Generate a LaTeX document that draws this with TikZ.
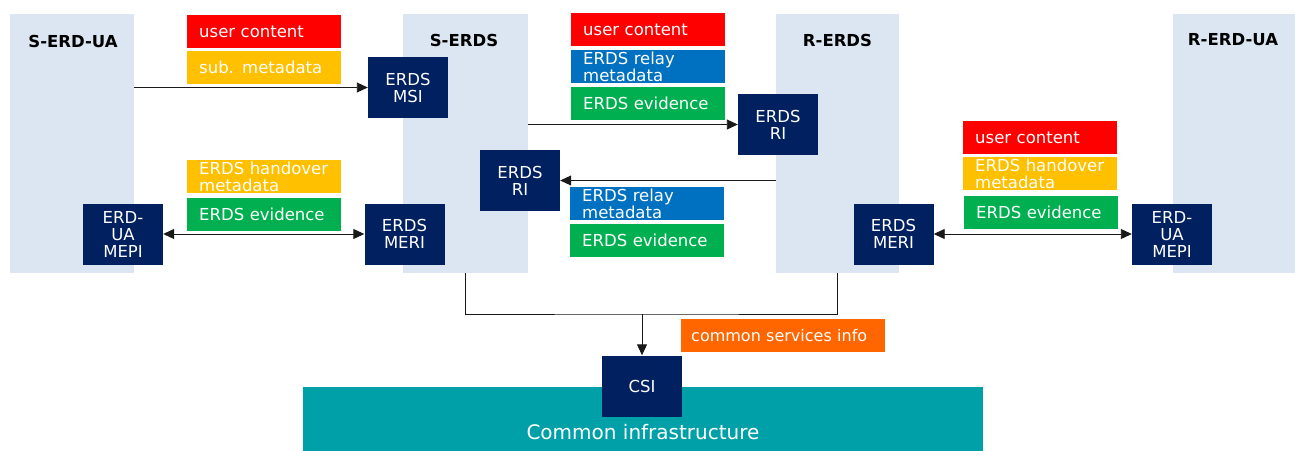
\documentclass[tikz,border=0pt]{standalone}
\usepackage{fontspec}
\setmainfont{DejaVu Sans}
\usetikzlibrary{arrows.meta}
\definecolor{colbg}{RGB}{220,230,242}
\definecolor{navy}{RGB}{0,32,96}
\definecolor{tred}{RGB}{255,0,0}
\definecolor{tyel}{RGB}{255,192,0}
\definecolor{tblue}{RGB}{0,112,192}
\definecolor{tgreen}{RGB}{0,176,80}
\definecolor{torange}{RGB}{255,102,0}
\definecolor{tealbg}{RGB}{0,160,168}
\definecolor{lin}{RGB}{25,25,25}
\begin{document}
\begin{tikzpicture}[x=1pt,y=-1pt,
 colbox/.style={fill=colbg, draw=none, minimum width=#1, minimum height=259pt, inner sep=0pt},
 header/.style={font=\fontsize{16.5}{18}\selectfont\bfseries, text=black},
 iface/.style={fill=navy, text=white, minimum width=80pt, minimum height=61pt, inner sep=0pt, align=center, font=\fontsize{16.5}{17}\selectfont},
 tag/.style={anchor=north west, text=white, inner xsep=12pt, inner ysep=0pt, text width=130pt, minimum height=33pt, align=left, font=\fontsize{16.5}{16.5}\selectfont},
 conn/.style={draw=lin, line width=0.9pt},
 arr/.style={conn, -{Triangle[length=11pt,width=10pt]}},
 darr/.style={conn, {Triangle[length=11pt,width=10pt]}-{Triangle[length=11pt,width=10pt]}},
]
\useasboundingbox (0,0) rectangle (1295,450);
% columns
\node[colbox=124pt] (cSUA) at (72,143.5) {};
\node[colbox=125pt] (cSE) at (465.5,143.5) {};
\node[colbox=123pt] (cRE) at (837.5,143) {};
\node[colbox=124pt] (cRUA) at (1235,143) {};
% headers
\node[header] (hSUA) at (73,41) {S-ERD-UA};
\node[header] (hSE) at (464,40) {S-ERDS};
\node[header] (hRE) at (837.5,40) {R-ERDS};
\node[header] (hRUA) at (1233,40) {R-ERD-UA};
% tags
\node[tag, fill=tred] (t1) at (187,15) {user content};
\node[tag, fill=tyel] (t2) at (187,51) {sub. metadata};
\node[tag, fill=tyel] (t3) at (187,160) {ERDS handover\\metadata};
\node[tag, fill=tgreen] (t4) at (187,198) {ERDS evidence};
\node[tag, fill=tred] (t5) at (571,13) {user content};
\node[tag, fill=tblue] (t6) at (571,50) {ERDS relay\\metadata};
\node[tag, fill=tgreen] (t7) at (571,87) {ERDS evidence};
\node[tag, fill=tblue] (t8) at (570,187) {ERDS relay\\metadata};
\node[tag, fill=tgreen] (t9) at (570,224) {ERDS evidence};
\node[tag, fill=tred] (t10) at (963,121) {user content};
\node[tag, fill=tyel] (t11) at (963,157) {ERDS handover\\metadata};
\node[tag, fill=tgreen] (t12) at (964,196) {ERDS evidence};
% interfaces
\node[iface] (msi) at (408,87.5) {ERDS\\MSI};
\node[iface] (riR) at (778,124.5) {ERDS\\RI};
\node[iface] (riL) at (520,180.5) {ERDS\\RI};
\node[iface] (mepiL) at (123,234) {ERD-\\UA\\MEPI};
\node[iface] (meriL) at (404.5,234) {ERDS\\MERI};
\node[iface] (meriR) at (893.5,234) {ERDS\\MERI};
\node[iface] (mepiR) at (1172,234) {ERD-\\UA\\MEPI};
% common infrastructure
\node[fill=tealbg, minimum width=680pt, minimum height=70pt, anchor=north west, inner sep=0pt] (infra) at (303,387) {};
\node[text=white, font=\fontsize{20}{22}\selectfont] (infraT) at (643,432) {Common infrastructure};
\node[iface] (csi) at (642,386) {CSI};
\node[tag, fill=torange, text width=184pt, inner xsep=10pt, font=\fontsize{16}{17}\selectfont] (csinfo) at (681,319) {common services info};
% connectors
\draw[arr] (msi.west -| cSUA.east) -- (msi.west);
\draw[arr] (riR.west -| cSE.east) -- (riR.west);
\draw[arr] (riL.east -| cRE.west) -- (riL.east);
\draw[darr] (mepiL.east) -- (meriL.west);
\draw[darr] (meriR.east) -- (mepiR.west);
\coordinate (j) at (642,314);
\draw[conn] (cSE.south) |- (j) -| (cRE.south);
\draw[arr] (j) -- (csi.north);
\end{tikzpicture}
\end{document}
